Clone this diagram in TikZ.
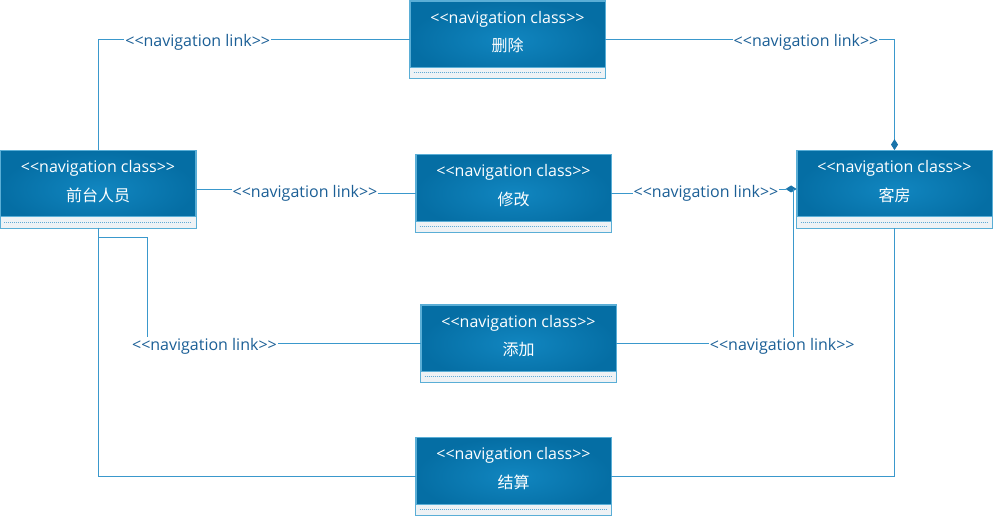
\documentclass[tikz,border=0pt]{standalone}
\usepackage{fontspec}
\setmainfont{Open Sans}
\newfontfamily\cjk{Noto Sans CJK SC}
\usetikzlibrary{arrows.meta,calc}
\definecolor{boxin}{HTML}{1186C0}
\definecolor{boxout}{HTML}{056EA4}
\definecolor{boxborder}{HTML}{5AAED6}
\definecolor{stripcol}{HTML}{EEF2F5}
\definecolor{dotcol}{HTML}{5FABD6}
\definecolor{linecol}{HTML}{3A98CC}
\definecolor{lblcol}{HTML}{1B5F96}
\definecolor{diamcol}{HTML}{1A74AA}
\newcommand\navcls{<\kern0pt<navigation class>\kern0pt>}
\newcommand\navlnk{<\kern0pt<navigation link>\kern0pt>}
\begin{document}
\begin{tikzpicture}[x=1pt,y=-1pt,
  navbox/.style={rectangle, minimum width=195pt, minimum height=77pt, inner sep=0pt,
    draw=boxborder, line width=0.8pt, inner color=boxin, outer color=boxout},
  clstxt/.style={text=white, font=\fontsize{16}{18}\selectfont, inner sep=0pt},
  cjktxt/.style={text=white, font=\cjk\fontsize{16}{18}\selectfont, inner sep=0pt},
  conn/.style={draw=linecol, line width=0.9pt},
  lbl/.style={fill=white, text=lblcol, font=\fontsize{16}{18}\selectfont, inner sep=1pt, yshift=-2.5pt},
  dtip/.style={-{Diamond[length=11pt,width=7pt,color=diamcol]}}]
\fill[white] (0,0) rectangle (994,516);
\useasboundingbox (0,0) rectangle (994,516);

\node[navbox] (del)  at (507.5,39.5) {};
\node[navbox] (ftr)  at (98,189) {};
\node[navbox] (mod)  at (513.5,193) {};
\node[navbox] (room) at (894.5,189) {};
\node[navbox] (add)  at (518.5,343.5) {};
\node[navbox] (pay)  at (513.5,476) {};

\foreach \n/\t in {del/删除, ftr/前台人员, mod/修改, room/客房, add/添加, pay/结算}{
  \fill[stripcol] ([xshift=0.4pt,yshift=0.4pt]\n.south west) rectangle ([xshift=-0.4pt,yshift=11pt]\n.south east);
  \draw[dotcol, line width=0.9pt, dash pattern=on 1pt off 1pt]
    ([xshift=4pt,yshift=5.5pt]\n.south west) -- ([xshift=-4pt,yshift=5.5pt]\n.south east);
  \draw[boxborder, line width=0.8pt] ([yshift=11pt]\n.south west) -- ([yshift=11pt]\n.south east);
  \draw[boxborder, line width=0.8pt] (\n.south west) rectangle (\n.north east);
  \node[clstxt] (\n-c) at ([yshift=-18.5pt]\n.north) {\navcls};
  \node[cjktxt] (\n-t) at ([yshift=-45pt]\n.north) {\t};
}

% connectors
\draw[conn] (ftr.north) |- node[lbl,pos=0.66]{\navlnk} (del.west);
\draw[conn,dtip] (del.east) -| node[lbl,pos=0.347]{\navlnk} (room.north);
\coordinate (m3) at (305,191);
\draw[conn] (ftr.east) -| (m3) |- (mod.west);
\node[lbl] (l3) at (m3) {\navlnk};
\coordinate (m4) at (706,191);
\draw[conn,dtip] (mod.east) -| (m4) |- (room.west);
\node[lbl] (l4) at (m4) {\navlnk};
\coordinate (bend1) at (147,237);
\coordinate (bend2) at (147,343.5);
\draw[conn] (ftr.south) |- (bend1) -- (bend2) -- node[lbl,pos=0.21]{\navlnk} (add.west);
\draw[conn] (ftr.south) |- (pay.west);
\coordinate (roomj) at ([xshift=-3pt]room.west);
\draw[conn] (add.east) -| node[lbl,pos=0.468]{\navlnk} (roomj);
\draw[conn] (pay.east) -| (room.south);
\end{tikzpicture}
\end{document}
